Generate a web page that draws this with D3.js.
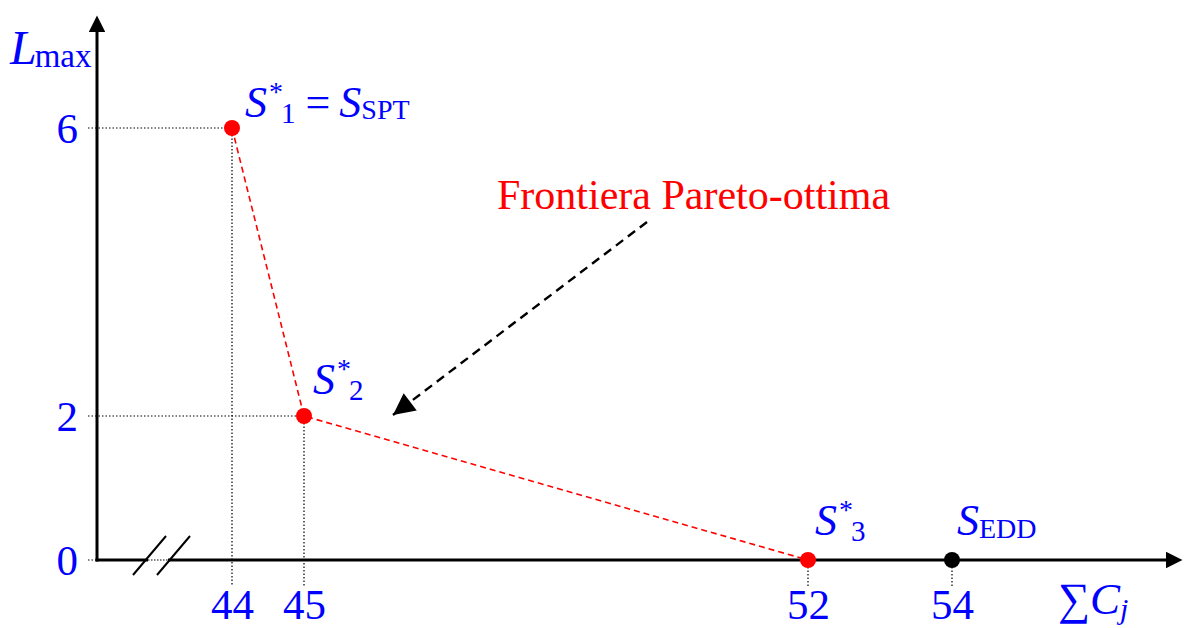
<!DOCTYPE html>
<html>
<head>
<meta charset="utf-8">
<script src="https://cdn.jsdelivr.net/npm/d3@7"></script>
<style>
  html, body { margin: 0; padding: 0; background: #ffffff; }
  svg { display: block; }
  text { font-family: "Liberation Serif", "Times New Roman", serif; }
</style>
</head>
<body>
<svg id="chart" width="1191" height="628"></svg>
<script>
// ---- data ----
const sumC = [44, 45, 52, 54];          // ΣCj of each schedule
const lMax = [6, 2, 0, 0];              // Lmax of each schedule
const isPareto = [true, true, true, false];
const schedNames = ["S*1 = SSPT", "S*2", "S*3", "SEDD"];
const xTicks = [44, 45, 52, 54];
const yTicks = [0, 2, 6];
const frontierLabel = "Frontiera Pareto-ottima";

// ---- layout ----
const svg = d3.select("#chart");
const BLUE = "#0000ff", RED = "#ff0000";
const originX = 97, originY = 560;

const x = d3.scaleLinear().domain([44, 54]).range([232, 952]);
const y = d3.scaleLinear().domain([0, 6]).range([560, 128]);

const pts = sumC.map((v, i) => ({ x: v, y: lMax[i], pareto: isPareto[i], name: schedNames[i] }));

// dotted guides
const g = svg.append("g");
yTicks.forEach(t => {
  const p = pts.find(d => d.y === t && d.pareto);
  const x2 = t === 0 ? originX : x(p.x);
  g.append("line").attr("x1", 88).attr("x2", x2).attr("y1", y(t)).attr("y2", y(t))
    .attr("stroke", "#000").attr("stroke-width", 1.2).attr("stroke-dasharray", "1.5,2");
});
xTicks.forEach(t => {
  const p = pts.find(d => d.x === t);
  g.append("line").attr("x1", x(t)).attr("x2", x(t)).attr("y1", y(p.y)).attr("y2", 586)
    .attr("stroke", "#000").attr("stroke-width", 1.2).attr("stroke-dasharray", "1.5,2");
});

// axes lines with arrows
const defs = svg.append("defs");
defs.append("marker")
  .attr("id", "axArrow").attr("viewBox", "0 0 10 10").attr("refX", 0).attr("refY", 5)
  .attr("markerWidth", 6.5).attr("markerHeight", 5.5).attr("markerUnits", "strokeWidth")
  .attr("orient", "auto")
  .append("path").attr("d", "M0,0 L10,5 L0,10 Z").attr("fill", "#000");

svg.append("line").attr("x1", originX).attr("y1", originY + 1.5).attr("x2", originX).attr("y2", 32)
  .attr("stroke", "#000").attr("stroke-width", 3).attr("marker-end", "url(#axArrow)");
svg.append("line").attr("x1", originX - 1.5).attr("y1", originY).attr("x2", 1166).attr("y2", originY)
  .attr("stroke", "#000").attr("stroke-width", 3).attr("marker-end", "url(#axArrow)");

// axis break marks
svg.append("rect").attr("x", 148).attr("y", originY - 2).attr("width", 20).attr("height", 4).attr("fill", "#fff");
svg.append("line").attr("x1", 148).attr("x2", 168).attr("y1", originY).attr("y2", originY)
  .attr("stroke", "#000").attr("stroke-width", 1).attr("stroke-dasharray", "1.5,1.5");
[[133, 575, 166, 536], [157, 575, 190, 536]].forEach(s => {
  svg.append("line").attr("x1", s[0]).attr("y1", s[1]).attr("x2", s[2]).attr("y2", s[3])
    .attr("stroke", "#000").attr("stroke-width", 2);
});

// tick labels via d3 axes
const yAxis = d3.axisLeft(y).tickValues(yTicks).tickSize(0).tickPadding(19).tickFormat(d3.format("d"));
const ya = svg.append("g").attr("transform", `translate(${originX},0)`).call(yAxis);
ya.select(".domain").remove();
ya.selectAll("text").attr("fill", BLUE).attr("font-size", 43)
  .attr("font-family", "Liberation Serif").attr("dy", "0.34em");

const xAxis = d3.axisBottom(x).tickValues(xTicks).tickSize(0).tickPadding(28).tickFormat(d3.format("d"));
const xa = svg.append("g").attr("transform", `translate(0,${originY})`).call(xAxis);
xa.select(".domain").remove();
xa.selectAll("text").attr("fill", BLUE).attr("font-size", 43)
  .attr("font-family", "Liberation Serif").attr("dy", "0.71em");

// axis titles
const yt = svg.append("text").attr("x", 10).attr("y", 64).attr("fill", BLUE).attr("font-size", 48);
yt.append("tspan").attr("font-style", "italic").text("L");
yt.append("tspan").attr("font-size", 33).attr("dx", -2).attr("dy", 3).text("max");

const xt = svg.append("text").attr("x", 1058).attr("y", 614).attr("fill", BLUE).attr("font-size", 45);
xt.append("tspan").text("\u2211");
xt.append("tspan").attr("font-style", "italic").text("C");
xt.append("tspan").attr("font-style", "italic").attr("font-size", 30).attr("dy", 5).text("j");

// frontier dashed line
const frontier = pts.filter(d => d.pareto);
svg.append("path").datum(frontier)
  .attr("d", d3.line().x(d => x(d.x)).y(d => y(d.y)))
  .attr("fill", "none").attr("stroke", RED).attr("stroke-width", 1.6).attr("stroke-dasharray", "6,4");

// points
svg.selectAll("circle.pt").data(pts).join("circle").attr("class", "pt")
  .attr("cx", d => x(d.x)).attr("cy", d => y(d.y)).attr("r", 8)
  .attr("fill", d => d.pareto ? RED : "#000");

// point labels
function starLabel(px, py, sub, extra) {
  const t = svg.append("text").attr("x", px).attr("y", py).attr("fill", BLUE).attr("font-size", 44);
  t.append("tspan").attr("font-style", "italic").text("S");
  t.append("tspan").attr("font-size", 28).attr("dy", -16).attr("dx", 2).text("*");
  t.append("tspan").attr("font-size", 29).attr("dy", 22).attr("dx", -2).text(sub);
  if (extra) {
    t.append("tspan").attr("dx", 10).attr("dy", -6).text("=");
    t.append("tspan").attr("dx", 9).attr("font-style", "italic").text("S");
    t.append("tspan").attr("font-size", 28).attr("dy", 2).text(extra);
  }
}
starLabel(x(44) + 13, 117, "1", "SPT");
starLabel(x(45) + 9, 394, "2");
starLabel(x(52) + 7, 535, "3");
const te = svg.append("text").attr("x", x(54) + 5).attr("y", 535).attr("fill", BLUE).attr("font-size", 44);
te.append("tspan").attr("font-style", "italic").text("S");
te.append("tspan").attr("font-size", 28).attr("dy", 3).text("EDD");

// frontier annotation
svg.append("text").attr("x", 497).attr("y", 209).attr("fill", RED).attr("font-size", 42).text(frontierLabel);

defs.append("marker")
  .attr("id", "blkArrow").attr("viewBox", "0 0 10 10").attr("refX", 10).attr("refY", 5)
  .attr("markerWidth", 10).attr("markerHeight", 9).attr("markerUnits", "strokeWidth")
  .attr("orient", "auto")
  .append("path").attr("d", "M0,0 L10,5 L0,10 Z").attr("fill", "#000");
svg.append("line").attr("x1", 647).attr("y1", 222).attr("x2", 393).attr("y2", 415)
  .attr("stroke", "#000").attr("stroke-width", 2.4).attr("stroke-dasharray", "9,6")
  .attr("marker-end", "url(#blkArrow)");
</script>
</body>
</html>
